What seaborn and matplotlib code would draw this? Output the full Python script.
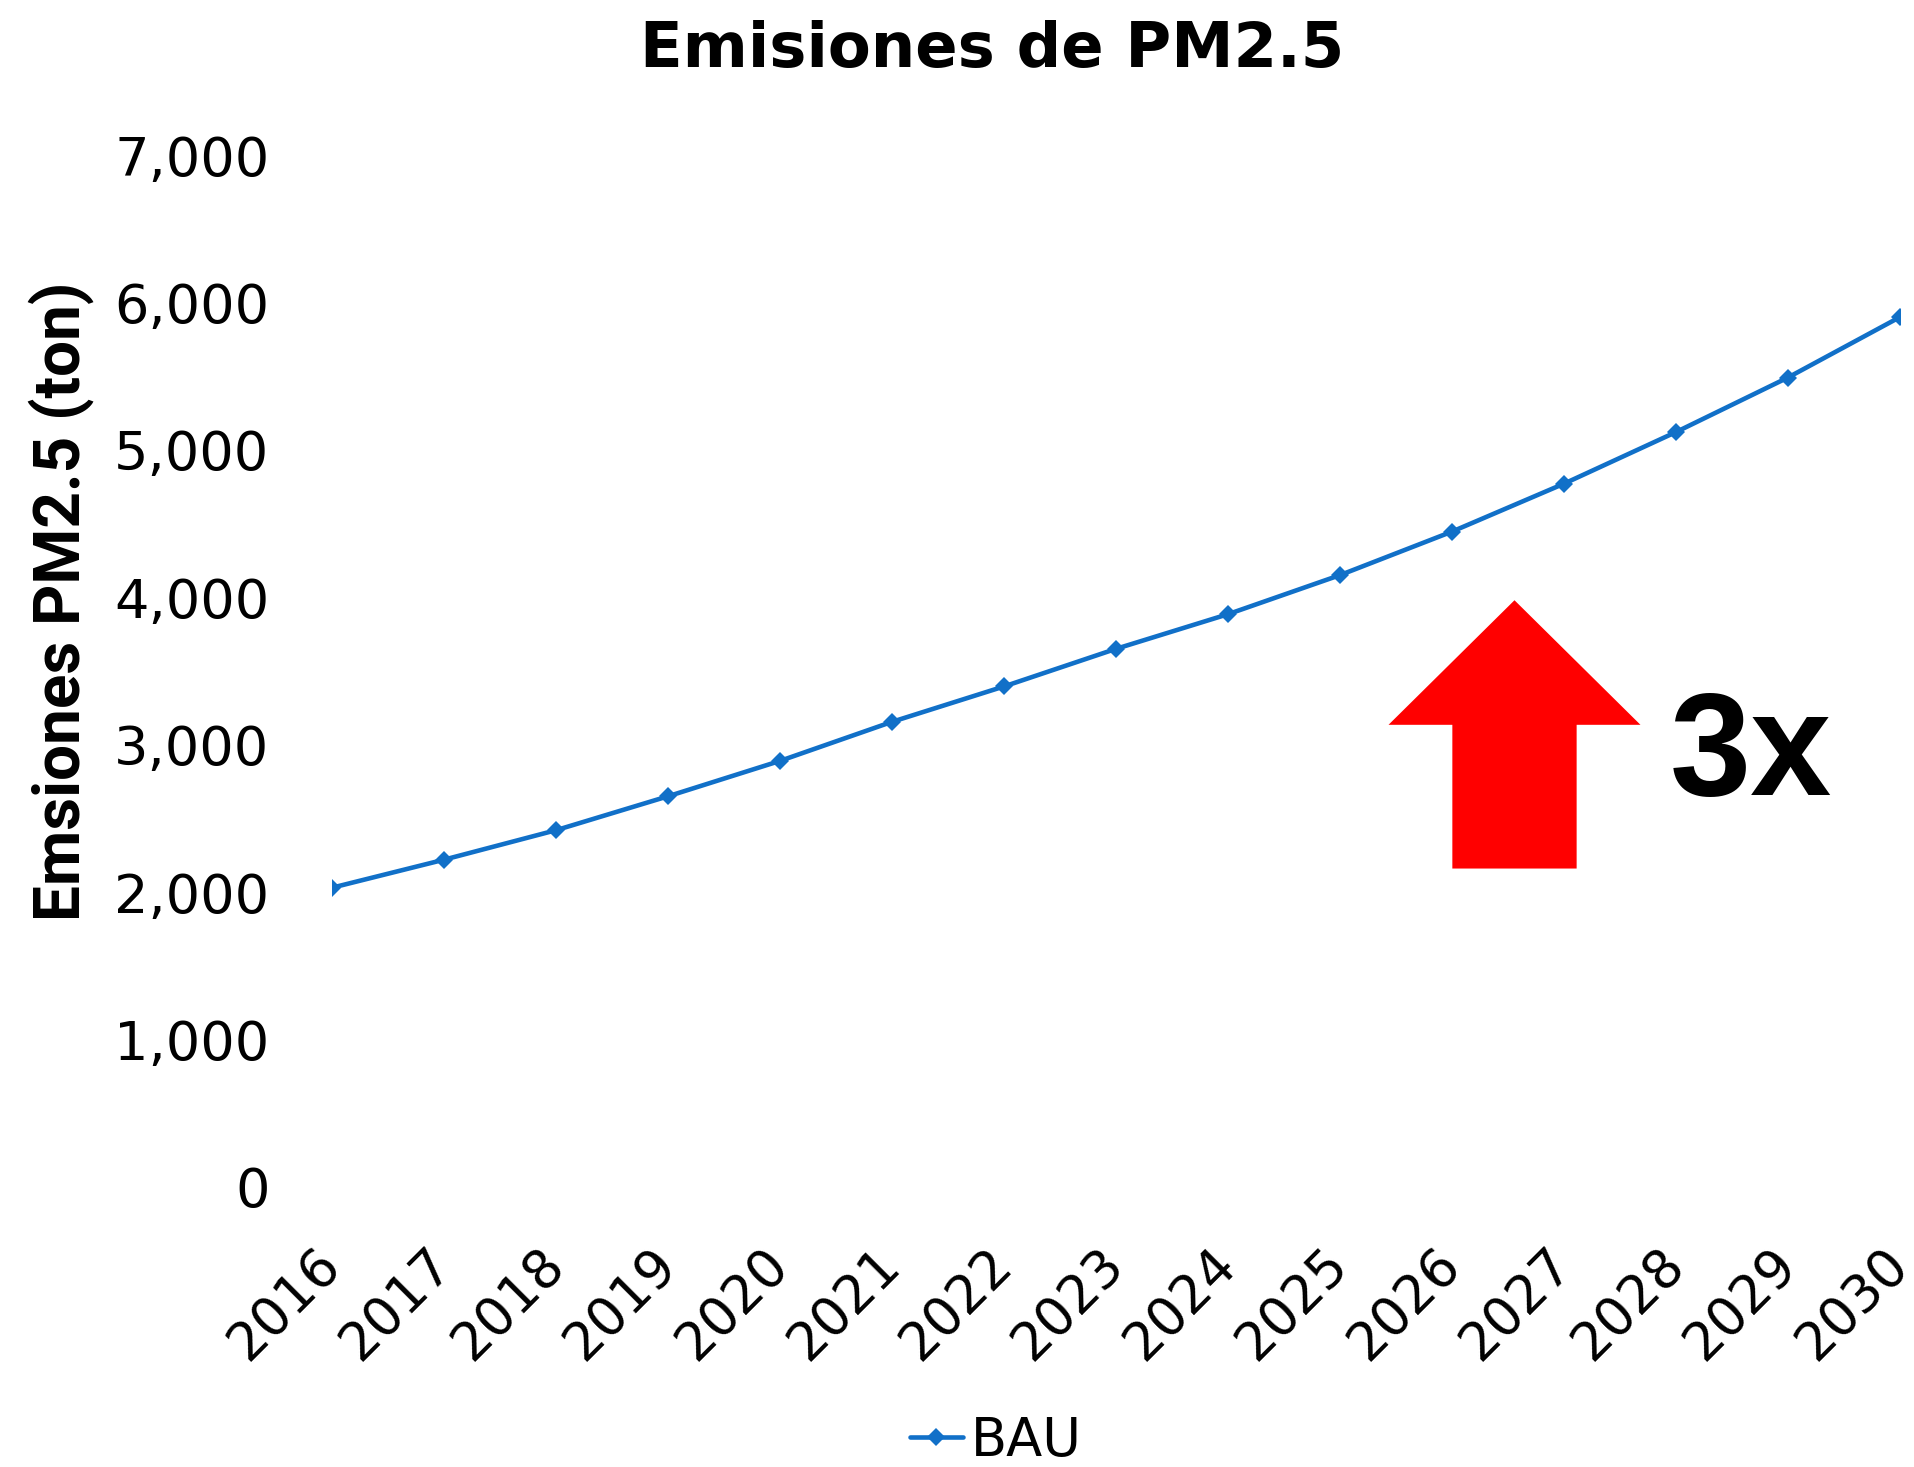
import seaborn as sns
import matplotlib.pyplot as plt
import pandas as pd
from matplotlib.patches import FancyArrow
from matplotlib.ticker import StrMethodFormatter

# data
years = [2016, 2017, 2018, 2019, 2020, 2021, 2022, 2023,
         2024, 2025, 2026, 2027, 2028, 2029, 2030]
bau = [2030, 2220, 2420, 2650, 2890, 3155, 3395, 3650,
       3885, 4150, 4445, 4770, 5120, 5490, 5900]
series_name = "BAU"
y_ticks = [0, 1000, 2000, 3000, 4000, 5000, 6000, 7000]

df = pd.DataFrame({"Año": years, "Emisiones": bau, "Serie": series_name})

sns.set_style("white")
plt.rcParams["font.family"] = ["DejaVu Sans"]
plt.rcParams["text.color"] = "black"
plt.rcParams["xtick.color"] = "black"
plt.rcParams["ytick.color"] = "black"
plt.rcParams["axes.labelcolor"] = "black"

line_color = "#1170C8"

fig = plt.figure(figsize=(19.15, 14.67), dpi=100)
ax = fig.add_axes([0.1734, 0.1909, 0.8186, 0.7034])

sns.lineplot(data=df, x="Año", y="Emisiones", hue="Serie",
             palette=[line_color], marker="D", markersize=9,
             markeredgewidth=0, linewidth=3.3, ax=ax, legend=False)

ax.set_xlim(years[0], years[-1])
ax.set_ylim(0, 7000)
ax.set_xticks(years)
ax.set_yticks(y_ticks)
ax.yaxis.set_major_formatter(StrMethodFormatter("{x:,.0f}"))
ax.tick_params(axis="y", labelsize=39, length=0, pad=45)
ax.tick_params(axis="x", labelsize=38, length=0, pad=50)
for lab in ax.get_xticklabels():
    lab.set_rotation(45)
    lab.set_ha("right")
    lab.set_va("center")
    lab.set_rotation_mode("anchor")

for s in ax.spines.values():
    s.set_visible(False)
ax.grid(False)

ax.set_xlabel("")
ax.set_ylabel("Emsiones PM2.5 (ton)", fontsize=46, fontweight="bold",
              family=["Roboto", "DejaVu Sans"])
ax.yaxis.label.set_va("center")
ax.yaxis.set_label_coords(-0.173, 0.568)

fig.suptitle("Emisiones de PM2.5", fontsize=45, fontweight="bold",
             x=0.518, y=0.966, va="center")

# red "growth" arrow with label
arrow_x, arrow_base, arrow_tip = 2026.56, 2160, 3980
arrow = FancyArrow(arrow_x, arrow_base, 0, arrow_tip - arrow_base,
                   width=1.11, head_width=2.25, head_length=845,
                   length_includes_head=True, color="#FF0000", lw=0)
ax.add_patch(arrow)
ax.text(2028.67, 2920, "3x", fontsize=105, fontweight="bold",
        family=["Liberation Sans", "DejaVu Sans"], ha="center", va="center")

ax.plot([], [], color=line_color, marker="D", markersize=9,
        markeredgewidth=0, linewidth=3.3, label=series_name)
fig.legend(*ax.get_legend_handles_labels(), loc="center",
           bbox_to_anchor=(0.52, 0.018), frameon=False, fontsize=38,
           handlelength=1.0, handletextpad=0.15)

fig.savefig("out.png", dpi=100)
